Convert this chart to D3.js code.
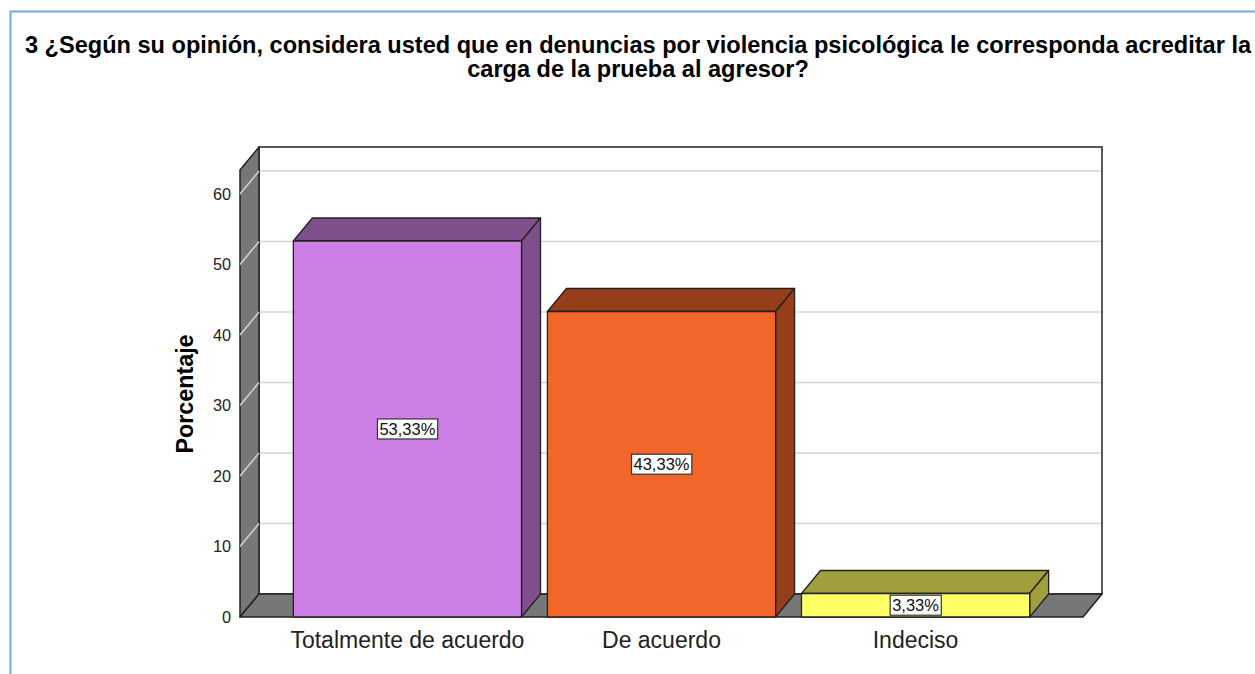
<!DOCTYPE html>
<html>
<head>
<meta charset="utf-8">
<script src="https://cdn.jsdelivr.net/npm/d3@7"></script>
<style>
  html, body { margin: 0; padding: 0; background: #fff; }
  svg { display: block; font-family: "Liberation Sans", Arial, sans-serif; }
</style>
</head>
<body>
<div id="chart"></div>
<script>
const categories = ["Totalmente de acuerdo", "De acuerdo", "Indeciso"]
const percentages = [53.33, 43.33, 3.33]
const valueLabels = ["53,33%", "43,33%", "3,33%"]
const frontColors = ["#cc80e6", "#f2662a", "#ffff66"]
const darkColors = ["#7f4f8c", "#963d1a", "#a09f3d"]
const yTicks = [0, 10, 20, 30, 40, 50, 60]

const W = 1255, H = 674
const dx = 19, dy = 23  // depth offset of the 3D look

const svg = d3.select("#chart").append("svg").attr("width", W).attr("height", H)

// outer frame
svg.append("path").attr("d", `M10.5,${H} V11.5 H${W}`)
    .attr("fill", "none").attr("stroke", "#7ba8dc").attr("stroke-width", 2)

// title
const title = svg.append("text").attr("text-anchor", "middle")
    .attr("font-weight", "bold").attr("font-size", 23.55).attr("fill", "#000")
title.append("tspan").attr("x", 638).attr("y", 53)
    .text("3 ¿Según su opinión, considera usted que en denuncias por violencia psicológica le corresponda acreditar la")
title.append("tspan").attr("x", 638).attr("y", 77).text("carga de la prueba al agresor?")

const x = d3.scaleBand().domain(categories).range([240, 1083]).paddingInner(0.102).paddingOuter(0.21)
const y = d3.scaleLinear().domain([0, 60]).range([617, 194])
const yTop = y.invert(170)

const g = svg.append("g")

// back wall
g.append("rect").attr("x", x.range()[0] + dx).attr("y", y(yTop) - dy)
    .attr("width", x.range()[1] - x.range()[0]).attr("height", y(0) - y(yTop))
    .attr("fill", "#fff").attr("stroke", "#222").attr("stroke-width", 1.5)

// left wall
const x0 = x.range()[0], x1 = x.range()[1]
g.append("path")
    .attr("d", `M${x0},${y(yTop)} L${x0 + dx},${y(yTop) - dy} L${x0 + dx},${y(0) - dy} L${x0},${y(0)} Z`)
    .attr("fill", "#777").attr("stroke", "#222").attr("stroke-width", 1.5).attr("stroke-linejoin", "round")

// floor
g.append("path")
    .attr("d", `M${x0},${y(0)} L${x1},${y(0)} L${x1 + dx},${y(0) - dy} L${x0 + dx},${y(0) - dy} Z`)
    .attr("fill", "#777").attr("stroke", "#222").attr("stroke-width", 1.5).attr("stroke-linejoin", "round")

// gridlines on back wall and left wall
const grid = g.append("g").attr("stroke", "#d4d4d4").attr("stroke-width", 1.5)
grid.selectAll("line.back").data(yTicks.slice(1)).join("line").attr("class", "back")
    .attr("x1", x0 + dx + 1).attr("x2", x1 + dx - 1)
    .attr("y1", d => y(d) - dy).attr("y2", d => y(d) - dy)
grid.selectAll("line.side").data(yTicks.slice(1)).join("line").attr("class", "side")
    .attr("x1", x0).attr("x2", x0 + dx)
    .attr("y1", d => y(d)).attr("y2", d => y(d) - dy)

// y tick labels
g.append("g").selectAll("text").data(yTicks).join("text")
    .attr("x", 231).attr("y", d => y(d)).attr("dy", "0.36em")
    .attr("text-anchor", "end").attr("font-size", 16.3).attr("fill", "#222")
    .text(d => d)

// y axis title
g.append("text").attr("transform", `translate(193,394) rotate(-90)`)
    .attr("text-anchor", "middle").attr("font-weight", "bold").attr("font-size", 23.3).attr("fill", "#000")
    .text("Porcentaje")

// bars
const bars = g.append("g").selectAll("g").data(categories).join("g")
bars.each(function (c, i) {
    const el = d3.select(this)
    const bx = x(c), bw = x.bandwidth(), top = y(percentages[i]), bot = y(0)
    const stroke = { stroke: "#222", "stroke-width": 1.3, "stroke-linejoin": "round" }
    const face = (d, fill) => {
        const p = el.append("path").attr("d", d).attr("fill", fill)
        Object.entries(stroke).forEach(([k, v]) => p.attr(k, v))
    }
    face(`M${bx},${top} L${bx + dx},${top - dy} L${bx + bw + dx},${top - dy} L${bx + bw},${top} Z`, darkColors[i])
    face(`M${bx + bw},${top} L${bx + bw + dx},${top - dy} L${bx + bw + dx},${bot - dy} L${bx + bw},${bot} Z`, darkColors[i])
    face(`M${bx},${top} H${bx + bw} V${bot} H${bx} Z`, frontColors[i])

    // value label box
    const cx = bx + bw / 2, cy = (top + bot) / 2
    const t = el.append("text").attr("x", cx).attr("y", cy).attr("dy", "0.36em")
        .attr("text-anchor", "middle").attr("font-size", 16.5).attr("fill", "#111").text(valueLabels[i])
    const bb = t.node().getBBox()
    el.insert("rect", "text").attr("x", bb.x - 2).attr("y", bb.y - 1)
        .attr("width", bb.width + 4).attr("height", bb.height + 2)
        .attr("fill", "#fff").attr("stroke", "#333").attr("stroke-width", 1.2)
})

// category labels
g.append("g").selectAll("text").data(categories).join("text")
    .attr("x", d => x(d) + x.bandwidth() / 2).attr("y", 648)
    .attr("text-anchor", "middle").attr("font-size", 23).attr("fill", "#222")
    .text(d => d)
</script>
</body>
</html>
